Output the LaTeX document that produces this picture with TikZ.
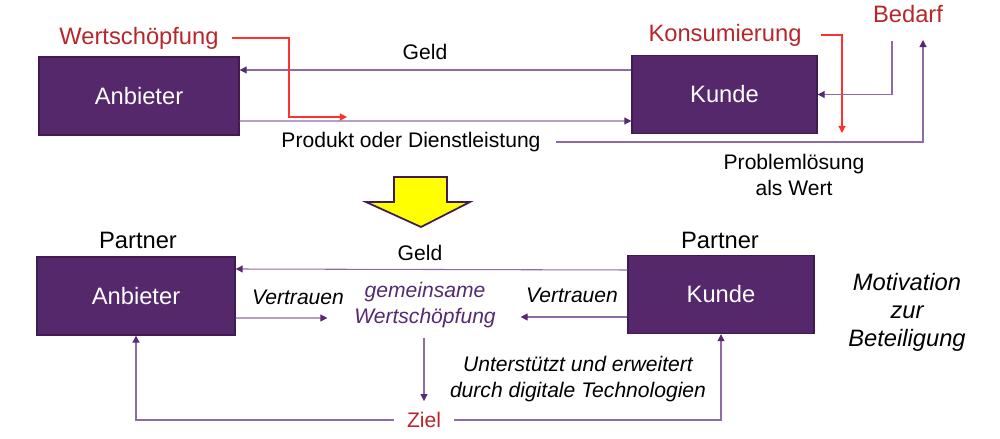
\documentclass[tikz,border=0pt]{standalone}
\usepackage{fontspec}
\setmainfont{Liberation Sans}
\usetikzlibrary{calc, arrows.meta}

\begin{document}
\begin{tikzpicture}[scale=1, transform shape]
    % Define colours
    \definecolor{boxColour}{HTML}{55276B}
    \definecolor{borderColour}{HTML}{3F1B52}
    \definecolor{lineColour}{HTML}{8C6BA6}
    \definecolor{tipColour}{HTML}{552A72}
    \definecolor{labelRed}{HTML}{B8262B}
    \definecolor{lineRed}{HTML}{FF3030}
    \definecolor{arrowYellow}{HTML}{FFFF00}

    % Define font sizes
    \def\bigText{\fontsize{13.5}{16}\selectfont}
    \def\smallText{\fontsize{12}{14.6}\selectfont}

    \tikzset{
        actor/.style={rectangle, draw=borderColour, fill=boxColour, line width=0.8pt,
            text=white, font=\bigText, minimum width=#1, minimum height=1.56cm},
        flow/.style={draw=lineColour, line width=0.6pt,
            -{Triangle[length=4pt, width=4pt, color=tipColour]}},
        redflow/.style={draw=lineRed, line width=0.6pt,
            -{Triangle[length=4pt, width=4pt]}},
        redlabel/.style={text=labelRed, font=\bigText, inner sep=1pt},
        label/.style={font=\smallText, align=center, inner sep=1pt},
        note/.style={font=\smallText\itshape, align=center, inner sep=1pt}
    }

    % Fix the picture size
    \useasboundingbox (0,0) rectangle (20,8.78);

    % Upper diagram
    \node[actor=4cm] (anbieterTop) at (2.78,6.86) {Anbieter};
    \node[actor=3.7cm] (kundeTop) at (14.49,6.89) {Kunde};

    \node[redlabel] (wertTop) at (2.78,8.02) {Wertschöpfung};
    \node[redlabel] (konsum) at (14.5,8.08) {Konsumierung};
    \node[redlabel] (bedarf) at (18.16,8.50) {Bedarf};

    \node[label] (geldTop) at (8.5,7.74) {Geld};
    \node[label] (produkt) at (8.22,5.94) {Produkt oder Dienstleistung};
    \node[label] (loesung) at (15.88,5.28) {Problemlösung\\als Wert};

    % Money and product flows
    \draw[flow] ([yshift=0.49cm]kundeTop.west) -- (anbieterTop.east |- {0,7.38});
    \draw[flow] ([yshift=-0.50cm]anbieterTop.east) -- (kundeTop.west |- {0,6.36});

    % Red value lines
    \coordinate (wertEnd) at (6.94,6.44);
    \draw[redflow] ([xshift=0.22cm]wertTop.east) -- (5.78,8.02) |- (wertEnd);
    \coordinate (konsumEnd) at (16.84,6.12);
    \draw[redflow] ([xshift=0.34cm]konsum.east) -| (konsumEnd);

    % Need and solution lines
    \coordinate (bedarfStart) at (17.84,7.96);
    \draw[flow] (bedarfStart) |- (kundeTop.east);
    \coordinate (loesungEnd) at (18.46,7.98);
    \draw[flow] ([xshift=0.26cm]produkt.east) -| (loesungEnd);

    % Transition arrow
    \filldraw[fill=arrowYellow, draw=borderColour, line width=1pt]
        (7.88,5.24) -- (8.94,5.24) -- (8.94,4.74) -- (9.40,4.74)
        -- (8.42,4.24) -- (7.32,4.74) -- (7.88,4.74) -- cycle;

    % Lower diagram
    \node[actor=3.96cm] (anbieterLow) at (2.72,2.86) {Anbieter};
    \node[actor=3.72cm] (kundeLow) at (14.42,2.89) {Kunde};

    \node[font=\bigText] (partnerA) at (2.76,3.98) {Partner};
    \node[font=\bigText] (partnerK) at (14.40,3.98) {Partner};

    \node[label] (geldLow) at (8.4,3.72) {Geld};
    \node[note] (vertrauenA) at (5.96,2.84) {Vertrauen};
    \node[note] (vertrauenK) at (11.44,2.88) {Vertrauen};
    \node[note, text=tipColour, inner sep=2pt] (gemein) at (8.5,2.68) {gemeinsame\\Wertschöpfung};
    \node[note] (digital) at (11.56,1.20) {Unterstützt und erweitert\\durch digitale Technologien};
    \node[font=\smallText, text=labelRed] (ziel) at (8.48,0.38) {Ziel};
    \node[font=\bigText\itshape, align=center] (motivation) at (18.14,2.54)
        {Motivation\\zur\\Beteiligung};

    % Flows round the shared value
    \draw[flow] ([yshift=0.49cm]kundeLow.west) -- (anbieterLow.east |- {0,3.40});
    \draw[flow] ([yshift=-0.44cm]anbieterLow.east) -- ([xshift=-0.46cm]gemein.west |- {0,2.42});
    \draw[flow] ([yshift=-0.45cm]kundeLow.west) -- ([xshift=0.42cm]gemein.east |- {0,2.44});
    \draw[flow] ([yshift=-0.12cm]gemein.south -| ziel.north) -- ([yshift=0.1cm]ziel.north);

    % Goal feeds back to both partners
    \draw[flow] ([xshift=-0.14cm]ziel.west) -| (anbieterLow.south);
    \draw[flow] ([xshift=0.14cm]ziel.east) -| (kundeLow.south);

\end{tikzpicture}
\end{document}
